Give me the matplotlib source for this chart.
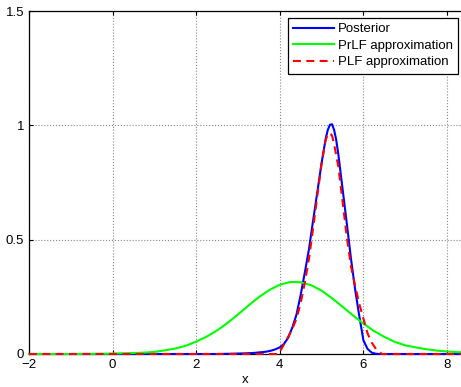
import matplotlib
matplotlib.use('Agg')
import matplotlib.pyplot as plt

plt.rcParams['font.family'] = ['Liberation Sans', 'DejaVu Sans']

# posterior density
post_x = [-2.0, 2.5, 2.8, 3.0, 3.2, 3.4, 3.5, 3.6, 3.7, 3.8, 3.9, 4.0, 4.1, 4.2,
          4.3, 4.4, 4.5, 4.6, 4.7, 4.8, 4.9, 5.0, 5.1, 5.15, 5.2, 5.25, 5.3,
          5.35, 5.4, 5.5, 5.6, 5.7, 5.8, 5.9, 6.0, 6.1, 6.2, 6.3, 6.4, 8.4]
post_y = [0.0, 0.0, 0.001, 0.002, 0.003, 0.005, 0.007, 0.0085, 0.011, 0.015,
          0.021, 0.029, 0.044, 0.071, 0.116, 0.173, 0.259, 0.358, 0.461,
          0.588, 0.711, 0.836, 0.944, 0.981, 1.003, 1.005, 0.980, 0.936,
          0.874, 0.725, 0.576, 0.421, 0.285, 0.168, 0.060, 0.022, 0.006,
          0.001, 0.0, 0.0]

# PrLF approximation
prlf_x = [-2.0, -1.0, -0.25, 0.0, 0.25, 0.5, 0.75, 1.0, 1.25, 1.5, 1.75, 2.0,
          2.25, 2.5, 2.75, 3.0, 3.25, 3.5, 3.75, 4.0, 4.25, 4.5, 4.75, 5.0,
          5.25, 5.5, 5.75, 6.0, 6.25, 6.5, 6.75, 7.0, 7.25, 7.5, 7.75, 8.0,
          8.25, 8.4]
prlf_y = [0.0, 0.0, 0.001, 0.002, 0.003, 0.004, 0.006, 0.009, 0.016, 0.024,
          0.036, 0.054, 0.076, 0.103, 0.136, 0.173, 0.212, 0.249, 0.280,
          0.303, 0.315, 0.314, 0.301, 0.277, 0.244, 0.207, 0.169, 0.133,
          0.101, 0.075, 0.053, 0.038, 0.029, 0.021, 0.015, 0.011, 0.008,
          0.007]

# PLF approximation
plf_x = [-2.0, 3.97, 4.0, 4.1, 4.2, 4.3, 4.4, 4.5, 4.6, 4.7, 4.8, 4.9, 5.0,
         5.1, 5.15, 5.2, 5.25, 5.3, 5.4, 5.5, 5.6, 5.7, 5.8, 5.9, 6.0, 6.1,
         6.2, 6.3, 6.44, 8.4]
plf_y = [0.0, 0.0, 0.010, 0.042, 0.075, 0.110, 0.155, 0.223, 0.314, 0.419,
         0.555, 0.695, 0.834, 0.938, 0.960, 0.967, 0.955, 0.917, 0.820,
         0.670, 0.516, 0.386, 0.300, 0.220, 0.155, 0.090, 0.050, 0.022,
         0.0, 0.0]

fig = plt.figure(figsize=(4.61, 3.87), dpi=100)
ax = fig.add_axes([29 / 461, 33 / 387, 432 / 461, 342.9 / 387])

ax.plot(post_x, post_y, color='b', lw=1.5, label='Posterior', zorder=3, clip_on=False)
ax.plot(prlf_x, prlf_y, color='#00ff00', lw=1.5, label='PrLF approximation',
        zorder=3, clip_on=False)
ax.plot(plf_x, plf_y, color='r', lw=1.5, ls='--', dashes=(3.8, 2.6),
        label='PLF approximation', zorder=3, clip_on=False)

ax.set_xlim(-2, 8.335)
ax.set_ylim(0, 1.5)
ax.set_xticks([-2, 0, 2, 4, 6, 8])
ax.set_yticks([0, 0.5, 1, 1.5])
ax.set_yticklabels(['0', '0.5', '1', '1.5'])
ax.grid(True, ls=':', color='#888888', lw=0.8)
ax.tick_params(direction='in', length=3, width=0.8, top=True, right=False,
               labelsize=9.5, pad=3.5, colors='black')
ax.spines['right'].set_visible(False)
for side in ('left', 'top', 'bottom'):
    ax.spines[side].set_linewidth(0.9)
ax.set_xlabel('x', fontsize=9.5, labelpad=2)

leg = ax.legend(loc='upper right', bbox_to_anchor=(0.993, 0.98), borderaxespad=0,
                fontsize=9.5, handlelength=3.1, handletextpad=0.3,
                labelspacing=0.32, borderpad=0.4, fancybox=False, framealpha=1)
leg.get_frame().set_edgecolor('black')
leg.get_frame().set_linewidth(0.9)

fig.savefig('out.png', dpi=100)
